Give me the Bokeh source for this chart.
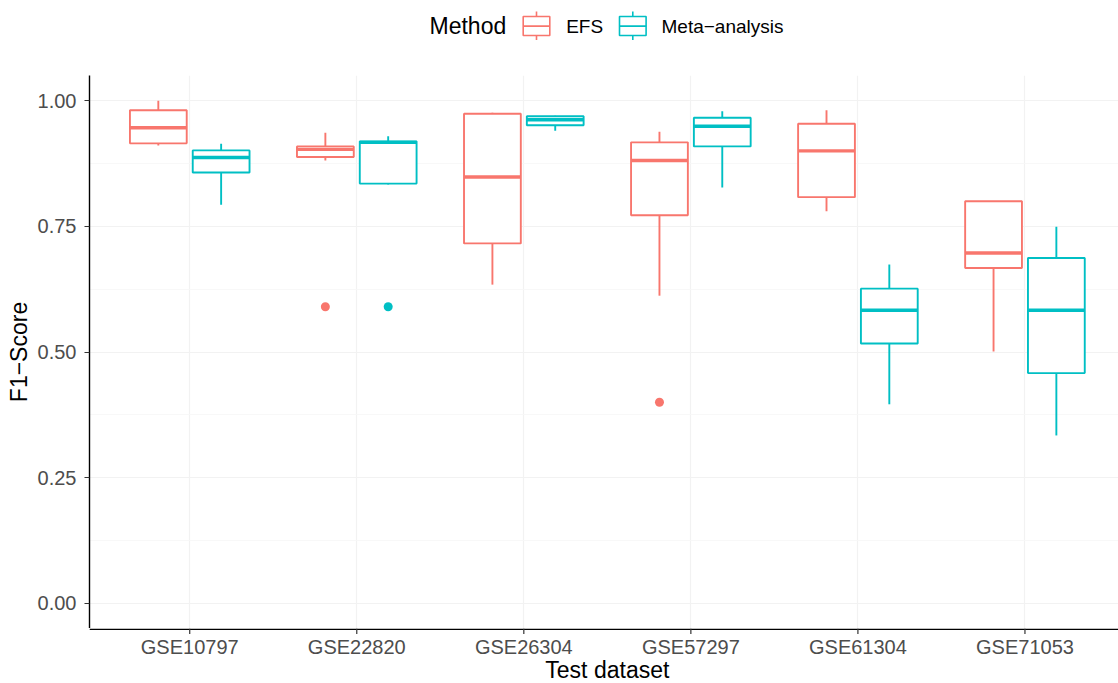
import numpy as np
from bokeh.plotting import figure
from bokeh.layouts import column
from bokeh.models import Range1d, FixedTicker
from bokeh.core.properties import value
from bokeh.embed import file_html
from bokeh.resources import INLINE

# ---------------- data ----------------
datasets = ["GSE10797", "GSE22820", "GSE26304", "GSE57297", "GSE61304", "GSE71053"]
methods = ["EFS", "Meta\u2212analysis"]

efs_lower  = [0.911, 0.881, 0.634, 0.612, 0.780, 0.501]
efs_q1     = [0.915, 0.888, 0.716, 0.772, 0.808, 0.667]
efs_median = [0.946, 0.903, 0.848, 0.881, 0.900, 0.697]
efs_q3     = [0.981, 0.909, 0.974, 0.917, 0.954, 0.800]
efs_upper  = [1.000, 0.936, 0.976, 0.938, 0.981, 0.800]
efs_outlier_sets = ["GSE22820", "GSE57297"]
efs_outlier_vals = [0.590, 0.400]

meta_lower  = [0.793, 0.833, 0.940, 0.827, 0.396, 0.334]
meta_q1     = [0.857, 0.835, 0.951, 0.909, 0.517, 0.458]
meta_median = [0.887, 0.917, 0.962, 0.949, 0.583, 0.583]
meta_q3     = [0.901, 0.919, 0.969, 0.966, 0.626, 0.687]
meta_upper  = [0.914, 0.929, 0.970, 0.979, 0.674, 0.749]
meta_outlier_sets = ["GSE22820"]
meta_outlier_vals = [0.590]

y_ticks = [0.0, 0.25, 0.5, 0.75, 1.0]
y_tick_labels = ["0.00", "0.25", "0.50", "0.75", "1.00"]
y_minor = [0.125, 0.375, 0.625, 0.875]

x_title = "Test dataset"
y_title = "F1\u2212Score"
legend_title = "Method"

colors = ["#F8766D", "#00BFC4"]
FONT = "Liberation Sans"
LEFT = 89

pos = np.arange(1, len(datasets) + 1)
x_range = Range1d(0.4, 6.56)

# ---------------- main plot ----------------
p = figure(width=1118, height=578, output_backend="svg", toolbar_location=None,
           x_range=x_range, y_range=Range1d(-0.05, 1.05),
           min_border_left=LEFT, min_border_right=0, min_border_top=25,
           min_border_bottom=0)
p.outline_line_color = None
p.background_fill_color = "white"
p.border_fill_color = "white"

offset = 0.188
half = 0.17

groups = [
    (efs_lower, efs_q1, efs_median, efs_q3, efs_upper, efs_outlier_sets, efs_outlier_vals, -offset, colors[0]),
    (meta_lower, meta_q1, meta_median, meta_q3, meta_upper, meta_outlier_sets, meta_outlier_vals, offset, colors[1]),
]

for lo, q1, med, q3, hi, oset, oval, off, col in groups:
    xc = pos + off
    p.segment(x0=xc, y0=q3, x1=xc, y1=hi, line_color=col, line_width=1.9)
    p.segment(x0=xc, y0=lo, x1=xc, y1=q1, line_color=col, line_width=1.9)
    p.quad(left=xc - half, right=xc + half, bottom=q1, top=q3,
           fill_color="white", line_color=col, line_width=1.9)
    p.segment(x0=xc - half, y0=med, x1=xc + half, y1=med, line_color=col, line_width=3.4)
    ox = [datasets.index(s) + 1 + off for s in oset]
    p.scatter(x=ox, y=oval, size=9, fill_color=col, line_color=col, line_width=0)

p.xaxis.ticker = FixedTicker(ticks=list(pos))
p.xaxis.visible = False
p.yaxis.ticker = FixedTicker(ticks=y_ticks, minor_ticks=y_minor)
p.yaxis.major_label_overrides = {t: l for t, l in zip(y_ticks, y_tick_labels)}

ax = p.yaxis[0]
ax.axis_line_color = "black"
ax.axis_line_width = 1.4
ax.major_tick_line_color = "#333333"
ax.major_tick_line_width = 1.2
ax.major_tick_out = 5
ax.major_tick_in = 0
ax.minor_tick_line_color = None
ax.major_label_text_font = FONT
ax.major_label_text_font_size = "20px"
ax.major_label_text_color = "#4D4D4D"
ax.axis_label = y_title
ax.axis_label_text_font = FONT
ax.axis_label_text_font_size = "23px"
ax.axis_label_text_font_style = "normal"
ax.axis_label_text_color = "black"
ax.major_label_standoff = 8
ax.axis_label_standoff = 3

p.xgrid.ticker = FixedTicker(ticks=list(pos))
p.xgrid.grid_line_color = "#F2F2F2"
p.xgrid.grid_line_width = 1.2
p.ygrid.ticker = FixedTicker(ticks=y_ticks, minor_ticks=y_minor)
p.ygrid.grid_line_color = "#F2F2F2"
p.ygrid.grid_line_width = 1.2
p.ygrid.minor_grid_line_color = "#F6F6F6"
p.ygrid.minor_grid_line_width = 0.8


def strip(h, xr):
    f = figure(width=1118, height=h, output_backend="svg", toolbar_location=None,
               x_range=xr, y_range=Range1d(h, 0),
               min_border_left=LEFT, min_border_right=0,
               min_border_top=0, min_border_bottom=0)
    f.axis.visible = False
    f.grid.visible = False
    f.outline_line_color = None
    return f

# ---------------- legend strip ----------------
lg = strip(50, Range1d(LEFT, 1118))
lg.text(x=[429], y=[25.5], text=[legend_title], text_font=value(FONT),
        text_font_size="23px", text_color="black", text_baseline="middle")
key_x = [536, 632.3]
lab_x = [565.7, 661]
for kx, lx, col, name in zip(key_x, lab_x, colors, methods):
    lg.segment(x0=[kx, kx], y0=[11, 35], x1=[kx, kx], y1=[16, 39.5], line_color=col, line_width=1.6)
    lg.quad(left=[kx - 13.3], right=[kx + 13.3], top=[16], bottom=[35],
            fill_color="white", line_color=col, line_width=1.6)
    lg.segment(x0=[kx - 13.3], y0=[25.6], x1=[kx + 13.3], y1=[25.6], line_color=col, line_width=1.6)
    lg.text(x=[lx], y=[25.5], text=[name], text_font=value(FONT),
            text_font_size="19px", text_color="black", text_baseline="middle")

# ---------------- x axis strip (axis line, ticks, labels, title) ----------------
bt = strip(55, x_range)
bt.segment(x0=[x_range.start], y0=[0.7], x1=[x_range.end], y1=[0.7],
           line_color="black", line_width=1.4)
bt.segment(x0=pos, y0=[0] * len(pos), x1=pos, y1=[5.5] * len(pos),
           line_color="#333333", line_width=1.2)
bt.text(x=pos, y=[18.2] * len(pos), text=datasets, text_font=value(FONT),
        text_font_size="20px", text_color="#4D4D4D", text_align="center",
        text_baseline="middle")
bt.text(x=[3.5], y=[41.5], text=[x_title], text_font=value(FONT),
        text_font_size="23px", text_color="black", text_align="center",
        text_baseline="middle")

layout = column(lg, p, bt, spacing=0)
open("out.html", "w").write(file_html(layout, INLINE))
